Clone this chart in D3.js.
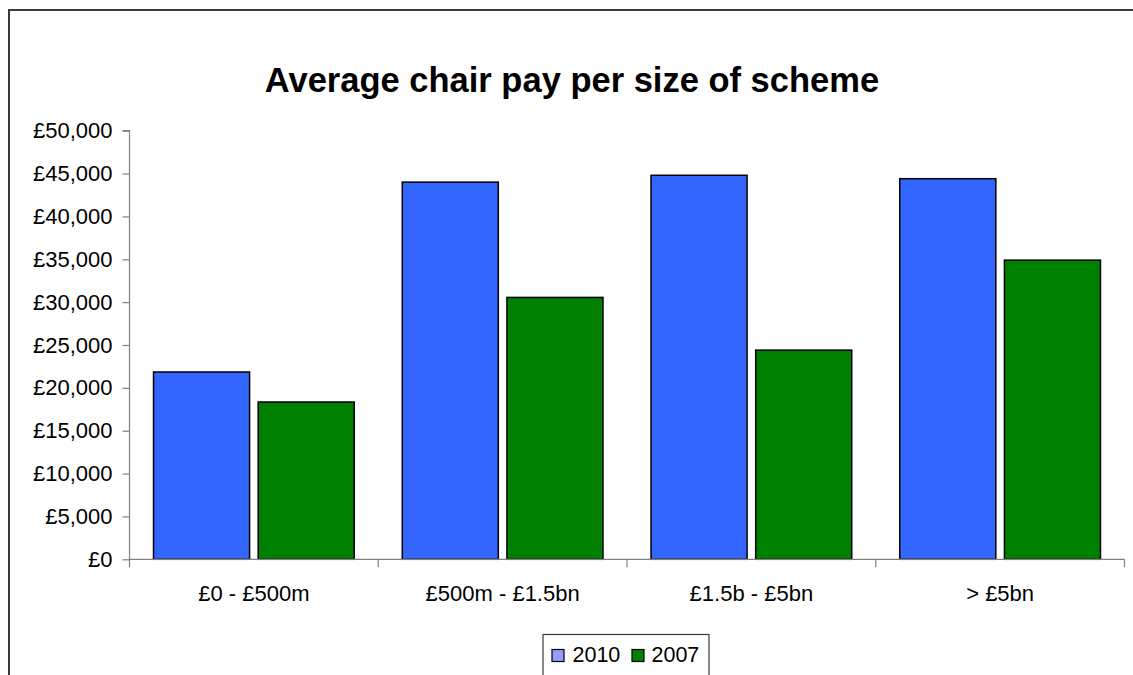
<!DOCTYPE html>
<html>
<head>
<meta charset="utf-8">
<script src="https://cdn.jsdelivr.net/npm/d3@7"></script>
<style>
  html, body { margin: 0; padding: 0; background: #fff; }
  svg { display: block; }
  text { font-family: "Liberation Sans", Arial, sans-serif; fill: #000; }
</style>
</head>
<body>
<svg id="chart" width="1133" height="675"></svg>
<script>
// Scheme size bands and average chair pay by year
const categories = ["£0 - £500m", "£500m - £1.5bn", "£1.5b - £5bn", "> £5bn"];
const seriesNames = ["2010", "2007"];
const pay2010 = [21850, 44000, 44800, 44400];
const pay2007 = [18350, 30550, 24400, 34900];
const yTicks = [0, 5000, 10000, 15000, 20000, 25000, 30000, 35000, 40000, 45000, 50000];

const barColors = { "2010": "#3366FF", "2007": "#008000" };
const legendColors = { "2010": "#9999FF", "2007": "#008000" };

const rows = categories.map((c, i) => ({ category: c, values: { "2010": pay2010[i], "2007": pay2007[i] } }));

const svg = d3.select("#chart");

// Outer chart frame
svg.append("rect")
  .attr("x", 9).attr("y", 10)
  .attr("width", 1140).attr("height", 700)
  .attr("fill", "none").attr("stroke", "#3a3a3a").attr("stroke-width", 2);

const plot = { left: 129.5, right: 1124.5, top: 130.7, bottom: 559.3 };

const x0 = d3.scaleBand().domain(categories).range([plot.left, plot.right]).padding(0);
const x1 = d3.scaleBand().domain(seriesNames).range([0, x0.bandwidth()])
  .paddingInner(0.0822).paddingOuter(0.2295);
const y = d3.scaleLinear().domain([0, 50000]).range([plot.bottom, plot.top]);

// Title
svg.append("text")
  .attr("x", 572).attr("y", 92)
  .attr("text-anchor", "middle")
  .style("font-weight", "bold").style("font-size", "34.5px")
  .text("Average chair pay per size of scheme");

// Bars
const groups = svg.append("g").selectAll("g")
  .data(rows).join("g")
  .attr("transform", d => `translate(${x0(d.category)},0)`);

groups.selectAll("rect")
  .data(d => seriesNames.map(s => ({ s, v: d.values[s] })))
  .join("rect")
  .attr("x", d => x1(d.s))
  .attr("y", d => y(d.v))
  .attr("width", x1.bandwidth())
  .attr("height", d => y(0) - y(d.v))
  .attr("fill", d => barColors[d.s])
  .attr("stroke", "#000").attr("stroke-width", 1.5);

// Y axis
const fmt = d3.format(",");
const yAxis = svg.append("g")
  .attr("transform", `translate(${plot.left},0)`)
  .call(d3.axisLeft(y).tickValues(yTicks).tickSize(7).tickPadding(10)
    .tickFormat(d => "£" + fmt(d)));
yAxis.select(".domain").attr("stroke", "#808080").attr("stroke-width", 1.2)
  .attr("d", `M-7,${plot.top}H0V${plot.bottom + 8}`);
yAxis.selectAll(".tick line").attr("stroke", "#808080").attr("stroke-width", 1.2);
yAxis.selectAll(".tick text").style("font-size", "22px").attr("fill", "#000");

// X axis
const xAxis = svg.append("g")
  .attr("transform", `translate(0,${plot.bottom})`)
  .call(d3.axisBottom(x0).tickSize(0).tickPadding(26));
xAxis.select(".domain").attr("stroke", "#808080").attr("stroke-width", 1.2)
  .attr("d", `M${plot.left},0H${plot.right}`);
xAxis.selectAll(".tick text").style("font-size", "22px").attr("fill", "#000");

// Category boundary ticks
const bounds = categories.map(c => x0(c) + x0.bandwidth());
xAxis.append("g").selectAll("line")
  .data(bounds).join("line")
  .attr("x1", d => d).attr("x2", d => d)
  .attr("y1", 0).attr("y2", 8)
  .attr("stroke", "#808080").attr("stroke-width", 1.2);

// Legend
const legend = svg.append("g");
legend.append("rect")
  .attr("x", 543).attr("y", 634.5)
  .attr("width", 166).attr("height", 60)
  .attr("fill", "#fff").attr("stroke", "#3a3a3a").attr("stroke-width", 1.2);

const legendItems = [
  { s: "2010", sx: 552, tx: 572.5 },
  { s: "2007", sx: 632, tx: 651.5 }
];
legend.selectAll("rect.sw")
  .data(legendItems).join("rect").attr("class", "sw")
  .attr("x", d => d.sx).attr("y", 649.5)
  .attr("width", 12).attr("height", 12)
  .attr("fill", d => legendColors[d.s])
  .attr("stroke", "#000").attr("stroke-width", 1.2);
legend.selectAll("text")
  .data(legendItems).join("text")
  .attr("x", d => d.tx).attr("y", 661.5)
  .style("font-size", "21.5px")
  .text(d => d.s);
</script>
</body>
</html>
